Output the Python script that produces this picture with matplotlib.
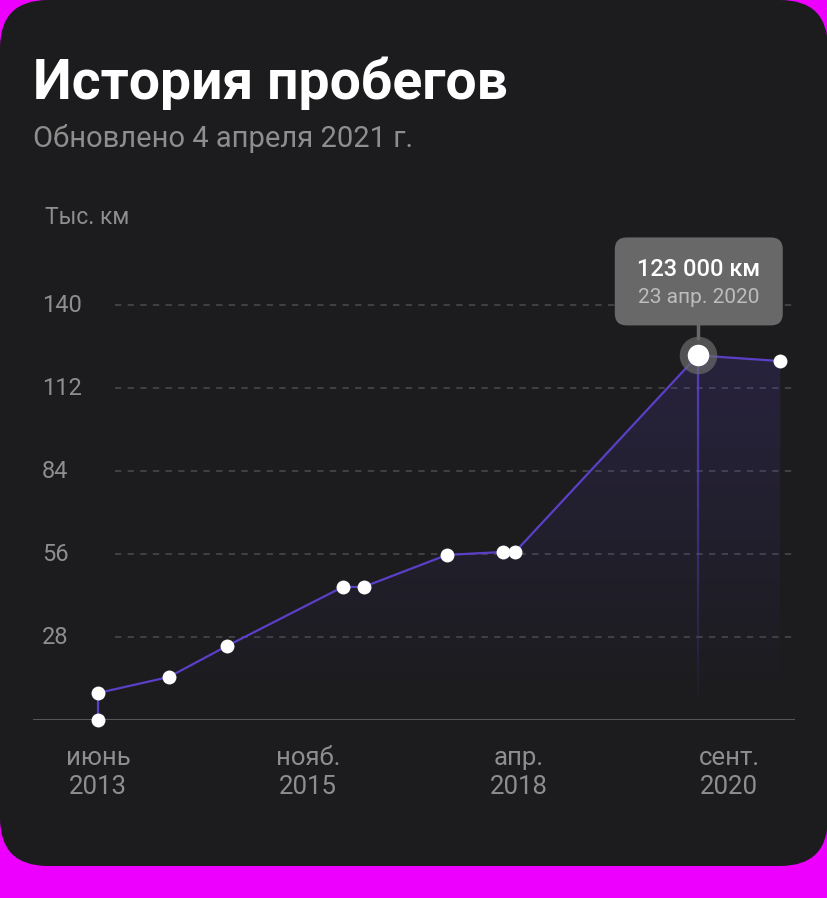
import numpy as np
import matplotlib.pyplot as plt
import matplotlib.dates as mdates
import matplotlib.transforms as mtransforms
from matplotlib.patches import FancyBboxPatch, Polygon
from matplotlib.collections import LineCollection

plt.rcParams['font.family'] = ['Roboto', 'DejaVu Sans']

# mileage history (thousand km)
dates = ['2013-06-01', '2013-06-01', '2014-03-25', '2014-11-25', '2016-03-25',
         '2016-06-20', '2017-06-05', '2018-01-28', '2018-03-18', '2020-04-23',
         '2021-04-04']
km = [0, 9.1, 14.5, 25.0, 44.9, 44.9, 55.7, 56.7, 56.7, 123.0, 121.1]
peak_idx = 9
peak_label = '123 000 км'
peak_date_label = '23 апр. 2020'

y_ticks = [28, 56, 84, 112, 140]
x_tick_dates = ['2013-06-01', '2015-11-01', '2018-04-01', '2020-09-01']
x_tick_labels = ['июнь\n2013', 'нояб.\n2015', 'апр.\n2018', 'сент.\n2020']

title = 'История пробегов'
subtitle = 'Обновлено 4 апреля 2021 г.'
unit_label = 'Тыс. км'

W, H = 828, 898
card = '#1c1c1e'
grey = '#8e8e8e'
purple = '#5b3fc6'

fig = plt.figure(figsize=(W / 100, H / 100), dpi=100, facecolor='#ee00ff')
ident = mtransforms.IdentityTransform()

# dark card (behind everything)
fig.add_artist(FancyBboxPatch((0, H - 866), W, 866,
                              boxstyle='round,pad=0,rounding_size=48',
                              fc=card, ec='none', transform=ident, zorder=-5))

# axes: y=0 at pixel row 720, 2.964 px per unit
ax = fig.add_axes([33 / W, (H - 720) / H, 762 / W, 150 * 2.964 / H])
ax.set_facecolor('none')
ax.axis('off')

x = mdates.datestr2num(dates)
xt = mdates.datestr2num(x_tick_dates)
dpp = (xt[-1] - xt[0]) / (729 - 98)
xlim = (xt[0] - (98 - 33) * dpp, xt[-1] + (795 - 729) * dpp)

# grid + baseline
for v in y_ticks:
    ax.axhline(v, xmin=(115 - 33) / 762, xmax=1, color='#444446', lw=1.3,
               ls=(0, (3.5, 3.5)), zorder=1)
ax.axhline(0, color='#5e5e60', lw=2, zorder=2)

# gradient area under line
verts = list(zip(x, km)) + [(x[-1], 0), (x[0], 0)]
poly = Polygon(verts, closed=True, fc='none', ec='none')
ax.add_patch(poly)
n = 256
grad = np.zeros((n, 1, 4))
grad[:, 0, 0:3] = [0.36, 0.25, 0.78]
grad[:, 0, 3] = np.linspace(0.22, 0.0, n) ** 1.1
img = ax.imshow(grad, extent=(x[0], x[-1], 0, max(km)), origin='upper',
                aspect='auto', zorder=1.5)
img.set_clip_path(poly)
ax.set_xlim(*xlim)
ax.set_ylim(0, 150)

# fading vertical line under the selected point
ys = np.linspace(km[peak_idx], 5, 40)
segs = [[(x[peak_idx], ys[i]), (x[peak_idx], ys[i + 1])] for i in range(len(ys) - 1)]
cols = [(0.36, 0.25, 0.78, 0.95 * (1 - i / len(segs))) for i in range(len(segs))]
ax.add_collection(LineCollection(segs, colors=cols, lw=1.6, zorder=2.5))

ax.plot(x, km, color=purple, lw=1.6, zorder=3, solid_capstyle='round')
others = [i for i in range(len(km)) if i != peak_idx]
ax.plot(x[others], np.array(km)[others], 'o', ms=10, mfc='white', mec='none',
        zorder=4, clip_on=False)
ax.plot(x[peak_idx], km[peak_idx], 'o', ms=27, mfc='#6a6a6a', mec='none',
        alpha=0.7, zorder=4, clip_on=False)
ax.plot(x[peak_idx], km[peak_idx], 'o', ms=15.5, mfc='white', mec='none',
        zorder=5, clip_on=False)

# tooltip
px, py = ax.transData.transform((x[peak_idx], km[peak_idx]))
fig.add_artist(FancyBboxPatch((px - 83, py + 30), 168, 88,
                              boxstyle='round,pad=0,rounding_size=12',
                              fc='#686868', ec='none', transform=ident, zorder=6))
fig.add_artist(plt.Line2D([px, px], [py + 17, py + 31], color='#686868', lw=2.5,
                          transform=ident, zorder=6))
fig.text((px + 1) / W, (py + 86) / H, peak_label, color='white', fontsize=17,
         weight='medium', ha='center', va='center', zorder=7)
fig.text((px + 1) / W, (py + 58) / H, peak_date_label, color='#bdbdbd', fontsize=15,
         ha='center', va='center', zorder=7)

# y tick labels
ty = mtransforms.blended_transform_factory(fig.transFigure, ax.transData)
for v in y_ticks:
    ax.text(42 / W, v, str(v), transform=ty, color=grey, fontsize=17,
            ha='left', va='center')

# x tick labels
tx = mtransforms.blended_transform_factory(ax.transData, fig.transFigure)
for d, lab in zip(xt, x_tick_labels):
    top, bottom = lab.split('\n')
    ax.text(d, (H - 758) / H, top, transform=tx, color=grey, fontsize=18.5,
            ha='center', va='center')
    ax.text(d, (H - 787) / H, bottom, transform=tx, color=grey, fontsize=18.5,
            ha='center', va='center')

# header
fig.text(33 / W, (H - 99) / H, title, color='white', fontsize=39.8, weight='bold',
         va='baseline')
fig.text(33 / W, (H - 147) / H, subtitle, color=grey, fontsize=21, va='baseline')
fig.text(45 / W, (H - 218) / H, unit_label, color=grey, fontsize=16.5, va='center')

fig.savefig('out.png', dpi=100, facecolor=fig.get_facecolor())
